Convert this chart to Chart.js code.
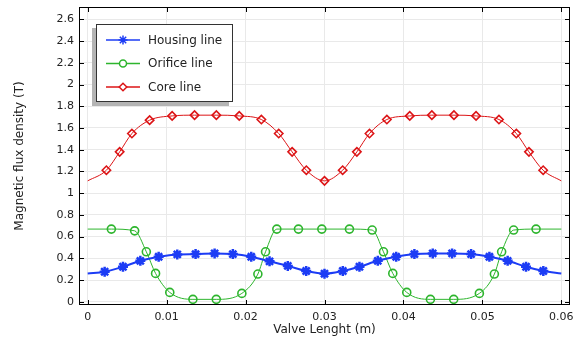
<!DOCTYPE html>
<html><head><meta charset="utf-8">
<script src="https://cdn.jsdelivr.net/npm/chart.js@4.4.1/dist/chart.umd.min.js"></script>
<style>html,body{margin:0;padding:0;background:#fff}#wrap{width:580px;height:338px;position:relative}</style>
</head><body><div id="wrap"><canvas id="c" width="580" height="338"></canvas></div>
<script>
const xTicks = [0, 0.01, 0.02, 0.03, 0.04, 0.05, 0.06];
const yTicks = [0, 0.2, 0.4, 0.6, 0.8, 1, 1.2, 1.4, 1.6, 1.8, 2, 2.2, 2.4, 2.6];

const housingX = [0, 0.00215, 0.00447, 0.00667, 0.00899, 0.01135, 0.01367, 0.01608, 0.01839, 0.02072, 0.02304, 0.02535, 0.02768, 0.03, 0.03232, 0.03443, 0.03675, 0.03908, 0.04139, 0.04371, 0.04616, 0.04857, 0.05089, 0.0532, 0.05553, 0.05772, 0.06];
const housingY = [0.261, 0.276, 0.322, 0.377, 0.414, 0.436, 0.439, 0.445, 0.439, 0.414, 0.372, 0.33, 0.283, 0.258, 0.283, 0.322, 0.377, 0.414, 0.439, 0.445, 0.445, 0.439, 0.414, 0.377, 0.322, 0.283, 0.261];

const orificeX = [0, 0.003, 0.00595, 0.00743, 0.0086, 0.0104, 0.01333, 0.01629, 0.01953, 0.02156, 0.02253, 0.02396, 0.0267, 0.02966, 0.03316, 0.03604, 0.03747, 0.03865, 0.04042, 0.04342, 0.04637, 0.04962, 0.05152, 0.05244, 0.05396, 0.0568, 0.06];
const orificeY = [0.669, 0.669, 0.653, 0.46, 0.261, 0.086, 0.022, 0.022, 0.077, 0.255, 0.46, 0.669, 0.669, 0.669, 0.669, 0.66, 0.46, 0.261, 0.086, 0.022, 0.022, 0.077, 0.255, 0.46, 0.66, 0.669, 0.669];

const coreX = [0, 0.00237, 0.00405, 0.0056, 0.00785, 0.0107, 0.01354, 0.0163, 0.0192, 0.022, 0.0242, 0.0259, 0.0277, 0.03, 0.0323, 0.0341, 0.0357, 0.0379, 0.0408, 0.0436, 0.0464, 0.0492, 0.0521, 0.0543, 0.0559, 0.0577, 0.06];
const coreY = [1.113, 1.211, 1.38, 1.549, 1.672, 1.711, 1.718, 1.718, 1.711, 1.678, 1.549, 1.38, 1.211, 1.113, 1.211, 1.38, 1.549, 1.678, 1.711, 1.718, 1.718, 1.711, 1.678, 1.549, 1.38, 1.211, 1.113];

const seriesNames = ['Housing line', 'Orifice line', 'Core line'];
const colors = ['#1c3cf5', '#2db52d', '#dc1416'];

function pts(xs, ys){ return xs.map((x,i)=>({x:x, y:ys[i]})); }
function endHidden(r){ return ctx => (ctx.dataIndex===0 || ctx.dataIndex===ctx.dataset.data.length-1) ? 0 : r; }

const FONT = 'DejaVu Sans';

const framePlugin = {
  id: 'frame',
  afterDatasetsDraw(chart){
    const {ctx, chartArea:a, scales:{x, y}} = chart;
    ctx.save();
    ctx.strokeStyle = '#000'; ctx.lineWidth = 1;
    ctx.strokeRect(Math.round(a.left)+0.5, Math.round(a.top)+0.5, Math.round(a.right-a.left)-1, Math.round(a.bottom-a.top)-1);
    ctx.beginPath();
    x.ticks.forEach(t => {
      const p = Math.round(x.getPixelForValue(t.value)) + 0.5;
      ctx.moveTo(p, a.bottom); ctx.lineTo(p, a.bottom - 5);
      ctx.moveTo(p, a.top); ctx.lineTo(p, a.top + 5);
    });
    y.ticks.forEach(t => {
      const p = Math.round(y.getPixelForValue(t.value)) + 0.5;
      ctx.moveTo(a.left, p); ctx.lineTo(a.left + 5, p);
      ctx.moveTo(a.right, p); ctx.lineTo(a.right - 5, p);
    });
    ctx.stroke();
    ctx.restore();
  },
  afterDraw(chart){
    const {ctx, chartArea:a} = chart;
    const bx = a.left + 17, by = a.top + 17, bw = 137, bh = 78;
    ctx.save();
    ctx.fillStyle = '#b4b4b4';
    ctx.fillRect(bx - 4, by + 4, bw, bh);
    ctx.fillStyle = '#fff';
    ctx.fillRect(bx, by, bw, bh);
    ctx.strokeStyle = '#333'; ctx.lineWidth = 1;
    ctx.strokeRect(bx + 0.5, by + 0.5, bw - 1, bh - 1);
    ctx.font = '12px "' + FONT + '"';
    ctx.textBaseline = 'middle';
    chart.data.datasets.forEach((ds, i) => {
      const cy = by + 16 + i * 23.5;
      ctx.strokeStyle = ds.borderColor; ctx.lineWidth = 1.5;
      ctx.beginPath(); ctx.moveTo(bx + 10, cy); ctx.lineTo(bx + 44, cy); ctx.stroke();
      ctx.strokeStyle = ds.borderColor; ctx.fillStyle = '#fff';
      Chart.helpers.drawPoint(ctx, {pointStyle: ds.pointStyle, radius: ds.legendRadius, borderWidth: ds.pointBorderWidth, rotation: 0}, bx + 27, cy);
      ctx.fillStyle = '#222';
      ctx.fillText(ds.label, bx + 52, cy + 0.5);
    });
    ctx.restore();
  }
};

const mkDs = (i, xs, ys, style, r, lr, bw, lw) => ({
  label: seriesNames[i],
  data: pts(xs, ys),
  borderColor: colors[i],
  backgroundColor: '#ffffff',
  pointBorderColor: colors[i],
  pointBackgroundColor: 'rgba(255,255,255,0)',
  pointStyle: style,
  pointRadius: endHidden(r),
  legendRadius: lr,
  pointBorderWidth: bw,
  borderWidth: lw,
  cubicInterpolationMode: 'monotone',
});

new Chart(document.getElementById('c'), {
  type: 'line',
  data: {
    datasets: [
      mkDs(0, housingX, housingY, 'star', 5, 4.5, 2.5, 2),
      mkDs(1, orificeX, orificeY, 'circle', 4, 3.5, 1.6, 1),
      mkDs(2, coreX, coreY, 'rectRot', 4.2, 3.8, 1.6, 1),
    ]
  },
  options: {
    responsive: false,
    animation: false,
    events: [],
    layout: {padding: {top: 7, right: 10, left: 0, bottom: 0}},
    plugins: {legend: {display: false}, tooltip: {enabled: false}},
    scales: {
      x: {
        type: 'linear', min: -0.0011, max: 0.0611,
        afterBuildTicks: s => { s.ticks = xTicks.map(v => ({value: v})); },
        afterFit: s => { s.height = 33; s.paddingLeft = 0; s.paddingRight = 0; },
        grid: {color: '#e9e9e9', drawTicks: false},
        border: {display: false},
        ticks: {color: '#222', padding: 6, maxRotation: 0, autoSkip: false, font: {family: FONT, size: 11}, callback: v => String(v)},
        title: {display: true, text: 'Valve Lenght (m)', color: '#222', font: {family: FONT, size: 12}, padding: {top: 0, bottom: 1}}
      },
      y: {
        type: 'linear', min: -0.03, max: 2.714,
        afterBuildTicks: s => { s.ticks = yTicks.map(v => ({value: v})); },
        afterFit: s => { s.width = 79; s.paddingTop = 0; s.paddingBottom = 0; },
        grid: {color: '#e9e9e9', drawTicks: false},
        border: {display: false},
        ticks: {color: '#222', padding: 5, autoSkip: false, font: {family: FONT, size: 11}, callback: v => String(v)},
        title: {display: true, text: 'Magnetic flux density (T)', color: '#222', font: {family: FONT, size: 12}, padding: {top: 13, bottom: 0}}
      }
    }
  },
  plugins: [framePlugin]
});
</script>
</body></html>
